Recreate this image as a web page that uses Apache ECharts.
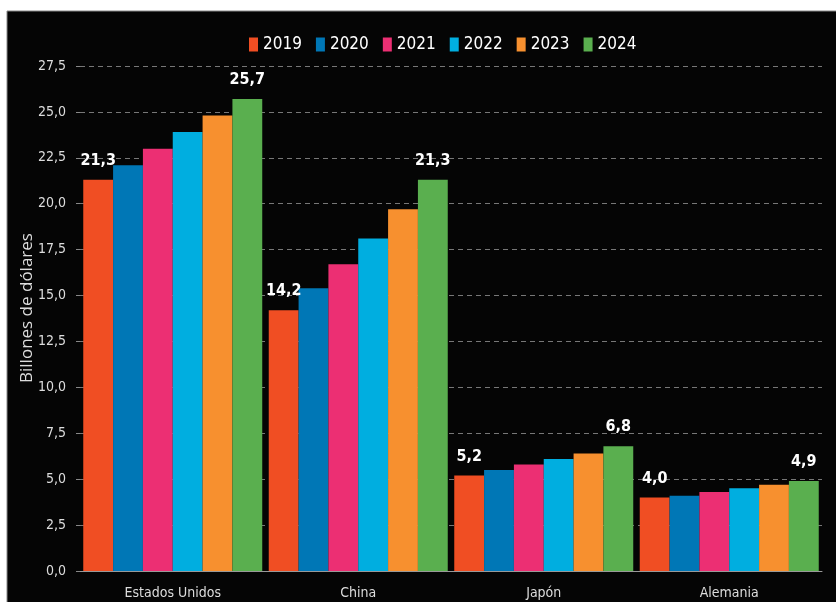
<!DOCTYPE html>
<html>
<head>
<meta charset="utf-8">
<script src="https://cdn.jsdelivr.net/npm/echarts@6/dist/echarts.min.js"></script>
<style>
  html, body { margin: 0; padding: 0; background: #fff; }
  #chart { width: 836px; height: 602px; }
</style>
</head>
<body>
<div id="chart"></div>
<script>
const categories = ["Estados Unidos", "China", "Japón", "Alemania"];
const years = ["2019", "2020", "2021", "2022", "2023", "2024"];
const colors = ["#F04E23", "#0077B6", "#EC2F73", "#00AEE0", "#F7902F", "#5AAF4F"];

// values per year, in order of categories
const v2019 = [21.3, 14.2, 5.2, 4.0];
const v2020 = [22.1, 15.4, 5.5, 4.1];
const v2021 = [23.0, 16.7, 5.8, 4.3];
const v2022 = [23.9, 18.1, 6.1, 4.5];
const v2023 = [24.8, 19.7, 6.4, 4.7];
const v2024 = [25.7, 21.3, 6.8, 4.9];
const seriesValues = [v2019, v2020, v2021, v2022, v2023, v2024];

const yTicks = { min: 0, max: 27.5, interval: 2.5 };
const yName = "Billones de dólares";

const narrow = '"Liberation Sans Narrow", "DejaVu Sans Condensed", sans-serif';
const fmt = (v) => v.toFixed(1).replace(".", ",");

const chart = echarts.init(document.getElementById("chart"));

const series = years.map((y, i) => ({
  name: y,
  type: "bar",
  data: seriesValues[i],
  itemStyle: { color: colors[i] },
  barGap: "0%",
  barCategoryGap: "3.5%",
  label: {
    show: i === 0 || i === years.length - 1,
    position: "top",
    distance: 11,
    color: "#fff",
    fontFamily: narrow,
    fontWeight: "bold",
    fontSize: 16,
    formatter: (p) => fmt(p.value),
  },
}));

chart.setOption({
  backgroundColor: "#fff",
  animation: false,
  graphic: [
    {
      type: "rect",
      z: -10,
      shape: { x: 7, y: 11, width: 840, height: 600 },
      style: { fill: "#050505", stroke: "#888", lineWidth: 1 },
    },
    {
      // y axis title
      type: "text",
      x: 27,
      y: 308,
      rotation: Math.PI / 2,
      style: {
        text: yName,
        fill: "#ddd",
        font: '17px "Open Sans"',
        align: "center",
        verticalAlign: "middle",
      },
    },
  ],
  legend: {
    top: 31,
    left: 244,
    itemWidth: 9,
    itemHeight: 14,
    itemGap: 14,
    icon: "rect",
    textStyle: { color: "#fff", fontFamily: narrow, fontSize: 17 },
    data: years,
  },
  grid: { left: 80, right: 14, top: 66, bottom: 31 },
  xAxis: {
    type: "category",
    data: categories,
    axisLine: { show: true, lineStyle: { color: "#999", width: 1 } },
    axisTick: { show: false },
    axisLabel: { color: "#ddd", fontFamily: narrow, fontSize: 14, margin: 15 },
  },
  yAxis: {
    type: "value",
    min: yTicks.min,
    max: yTicks.max,
    interval: yTicks.interval,
    axisLine: { show: false },
    axisTick: { show: true, length: 4, lineStyle: { color: "#888" } },
    axisLabel: { color: "#ddd", fontFamily: narrow, fontSize: 14, margin: 14, formatter: fmt },
    splitLine: { show: true, lineStyle: { color: "#777", type: [5, 4], width: 1 } },
  },
  series: series,
});
</script>
</body>
</html>
